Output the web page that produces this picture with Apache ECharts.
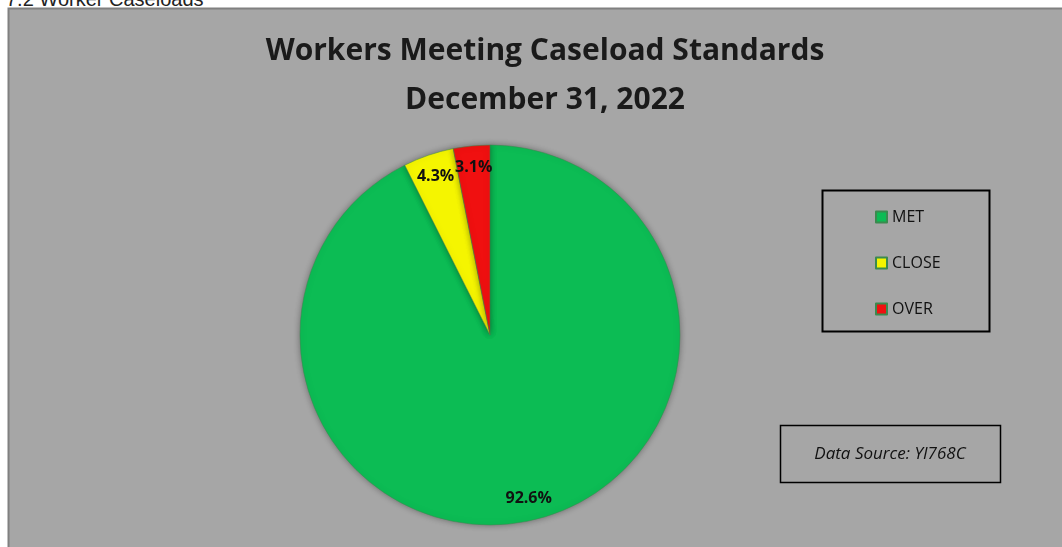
<!DOCTYPE html>
<html>
<head>
<meta charset="utf-8">
<script src="https://cdn.jsdelivr.net/npm/echarts@6/dist/echarts.min.js"></script>
<style>
  body { margin: 0; background: #fff; }
  #cap { position: absolute; left: 6px; top: -12px; font: 20px "Liberation Sans", sans-serif; color: #222; }
  #main { position: absolute; left: 0; top: 0; width: 1062px; height: 547px; }
</style>
</head>
<body>
<div id="cap">7.2 Worker Caseloads</div>
<div id="main"></div>
<script>
var categories = ['MET', 'CLOSE', 'OVER'];
var values = [92.6, 4.3, 3.1];
var colors = ['#0cbc54', '#f5f500', '#f01010'];

var data = categories.map(function (c, i) {
  return { name: c, value: values[i], itemStyle: { color: colors[i] } };
});

var chart = echarts.init(document.getElementById('main'));
chart.setOption({
  title: {
    text: 'Workers Meeting Caseload Standards\nDecember 31, 2022',
    left: 540, top: 22, textAlign: 'center',
    textStyle: { fontFamily: 'Open Sans', fontWeight: 'bold', fontSize: 30, lineHeight: 49, color: '#1a1a1a' }
  },
  graphic: [
    { type: 'rect', z: -10, shape: { x: 8.5, y: 8.5, width: 1100, height: 600 },
      style: { fill: '#a6a6a6', stroke: '#808080', lineWidth: 2 } },
    { type: 'rect', shape: { x: 822.5, y: 190.5, width: 167, height: 141 },
      style: { fill: 'none', stroke: '#000', lineWidth: 2 } },
    { type: 'rect', shape: { x: 780.5, y: 425.5, width: 220, height: 57 },
      style: { fill: 'none', stroke: '#000', lineWidth: 1.5 } },
    { type: 'text', style: { x: 890, y: 454, text: 'Data Source: YI768C', align: 'center', verticalAlign: 'middle',
      font: 'italic 17px "Open Sans"', fill: '#111' } }
  ],
  legend: {
    orient: 'vertical', left: 870, top: 204, itemGap: 30,
    itemWidth: 11, itemHeight: 11, icon: 'rect',
    textStyle: { fontFamily: 'Open Sans', fontSize: 16, color: '#111' },
    data: categories
  },
  series: [
    {
      type: 'pie', center: [490, 335], radius: 190, startAngle: 90, clockwise: true,
      label: { show: false }, labelLine: { show: false },
      itemStyle: { borderColor: '#3b8a4f', borderWidth: 0.5, shadowBlur: 6, shadowColor: 'rgba(0,0,0,0.35)' },
      data: data, silent: true
    },
    {
      type: 'pie', center: [490, 335], radius: [140, 190], startAngle: 90, clockwise: true,
      silent: true, legendHoverLink: false, avoidLabelOverlap: false,
      labelLayout: { hideOverlap: false },
      itemStyle: { color: 'transparent' },
      label: { show: true, position: 'inside', formatter: '{c}%',
        fontFamily: 'Open Sans', fontWeight: 'bold', fontSize: 16, color: '#111' },
      data: categories.map(function (c, i) { return { name: c + ' ', value: values[i] }; })
    }
  ]
});
</script>
</body>
</html>
